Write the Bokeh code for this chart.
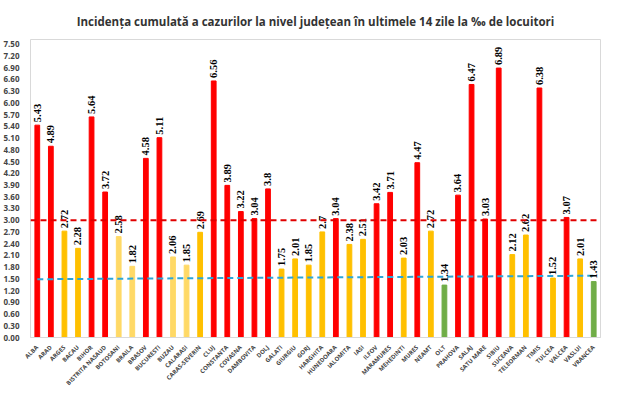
import numpy as np
from bokeh.plotting import figure
from bokeh.models import ColumnDataSource, FixedTicker, Span, CustomJSTickFormatter, LabelSet
from bokeh.embed import file_html
from bokeh.resources import INLINE
from bokeh.core.properties import value

counties = ["ALBA","ARAD","ARGES","BACAU","BIHOR","BISTRITA NASAUD","BOTOSANI","BRAILA","BRASOV","BUCURESTI",
            "BUZAU","CALARASI","CARAS-SEVERIN","CLUJ","CONSTANTA","COVASNA","DAMBOVITA","DOLJ","GALATI","GIURGIU",
            "GORJ","HARGHITA","HUNEDOARA","IALOMITA","IASI","ILFOV","MARAMURES","MEHEDINTI","MURES","NEAMT",
            "OLT","PRAHOVA","SALAJ","SATU MARE","SIBIU","SUCEAVA","TELEORMAN","TIMIS","TULCEA","VALCEA","VASLUI","VRANCEA"]
values = [5.43,4.89,2.72,2.28,5.64,3.72,2.58,1.82,4.58,5.11,
          2.06,1.85,2.69,6.56,3.89,3.22,3.04,3.8,1.75,2.01,
          1.85,2.7,3.04,2.38,2.51,3.42,3.71,2.03,4.47,2.72,
          1.34,3.64,6.47,3.03,6.89,2.12,2.62,6.38,1.52,3.07,2.01,1.43]
labels = ["5.43","4.89","2.72","2.28","5.64","3.72","2.58","1.82","4.58","5.11",
          "2.06","1.85","2.69","6.56","3.89","3.22","3.04","3.8","1.75","2.01",
          "1.85","2.7","3.04","2.38","2.51","3.42","3.71","2.03","4.47","2.72",
          "1.34","3.64","6.47","3.03","6.89","2.12","2.62","6.38","1.52","3.07","2.01","1.43"]
light = {"BOTOSANI","BRAILA","BUZAU","CALARASI"}

def col(c, v):
    if v > 3: return "#FF0000"
    if v < 1.5: return "#70AD47"
    if c in light: return "#FFD966"
    return "#FFC000"

colors = [col(c, v) for c, v in zip(counties, values)]
src = ColumnDataSource(dict(x=counties, top=values, color=colors, lab=labels))

p = figure(x_range=counties, y_range=(0, 7.62), width=610, height=392,
           output_backend="svg", toolbar_location=None,
           title="Incidența cumulată a cazurilor la nivel județean în ultimele 14 zile la ‰ de locuitori")
p.title.align = "center"
p.title.text_font = "Open Sans"
p.title.text_font_size = "11.5px"
p.title.text_font_style = "bold"
p.title.text_color = "#333333"
p.title.standoff = 22
p.outline_line_color = "#d9d9d9"
p.border_fill_color = "white"
p.min_border_left = 8
p.min_border_right = 10
p.min_border_bottom = 4

p.vbar(x="x", top="top", width=0.35, color="color", source=src)
p.add_layout(LabelSet(x="x", y="top", text="lab", angle=90, angle_units="deg", source=src,
       text_font="sans-serif", text_font_size="10.5px", text_font_style="bold",
       text_baseline="middle", text_align="left", x_offset=0, y_offset=3, text_color="black"))

p.add_layout(Span(location=3.0, dimension="width", line_color="#E00000", line_dash="6 4", line_width=2))
p.segment(x0=[counties[0]], y0=[1.49], x1=[counties[-1]], y1=[1.58],
          line_color="#2BA6D9", line_dash="6 4", line_width=2)

p.yaxis.ticker = FixedTicker(ticks=[round(i*0.3, 2) for i in range(26)])
p.yaxis.formatter = CustomJSTickFormatter(code="return tick.toFixed(2);")
p.yaxis.major_label_text_font = "Open Sans"
p.yaxis.major_label_text_font_size = "8px"
p.yaxis.major_label_text_font_style = "bold"
p.yaxis.axis_line_color = None
p.yaxis.major_tick_line_color = None
p.yaxis.minor_tick_line_color = None
p.xaxis.major_label_orientation = np.pi/4
p.xaxis.major_label_text_font = "Open Sans"
p.xaxis.major_label_text_font_size = "6px"
p.xaxis.major_label_text_font_style = "bold"
p.xaxis.major_label_standoff = 3
p.xaxis.major_tick_line_color = None
p.xaxis.axis_line_color = "#d9d9d9"
p.grid.grid_line_color = None

open("out.html", "w").write(file_html(p, INLINE))
